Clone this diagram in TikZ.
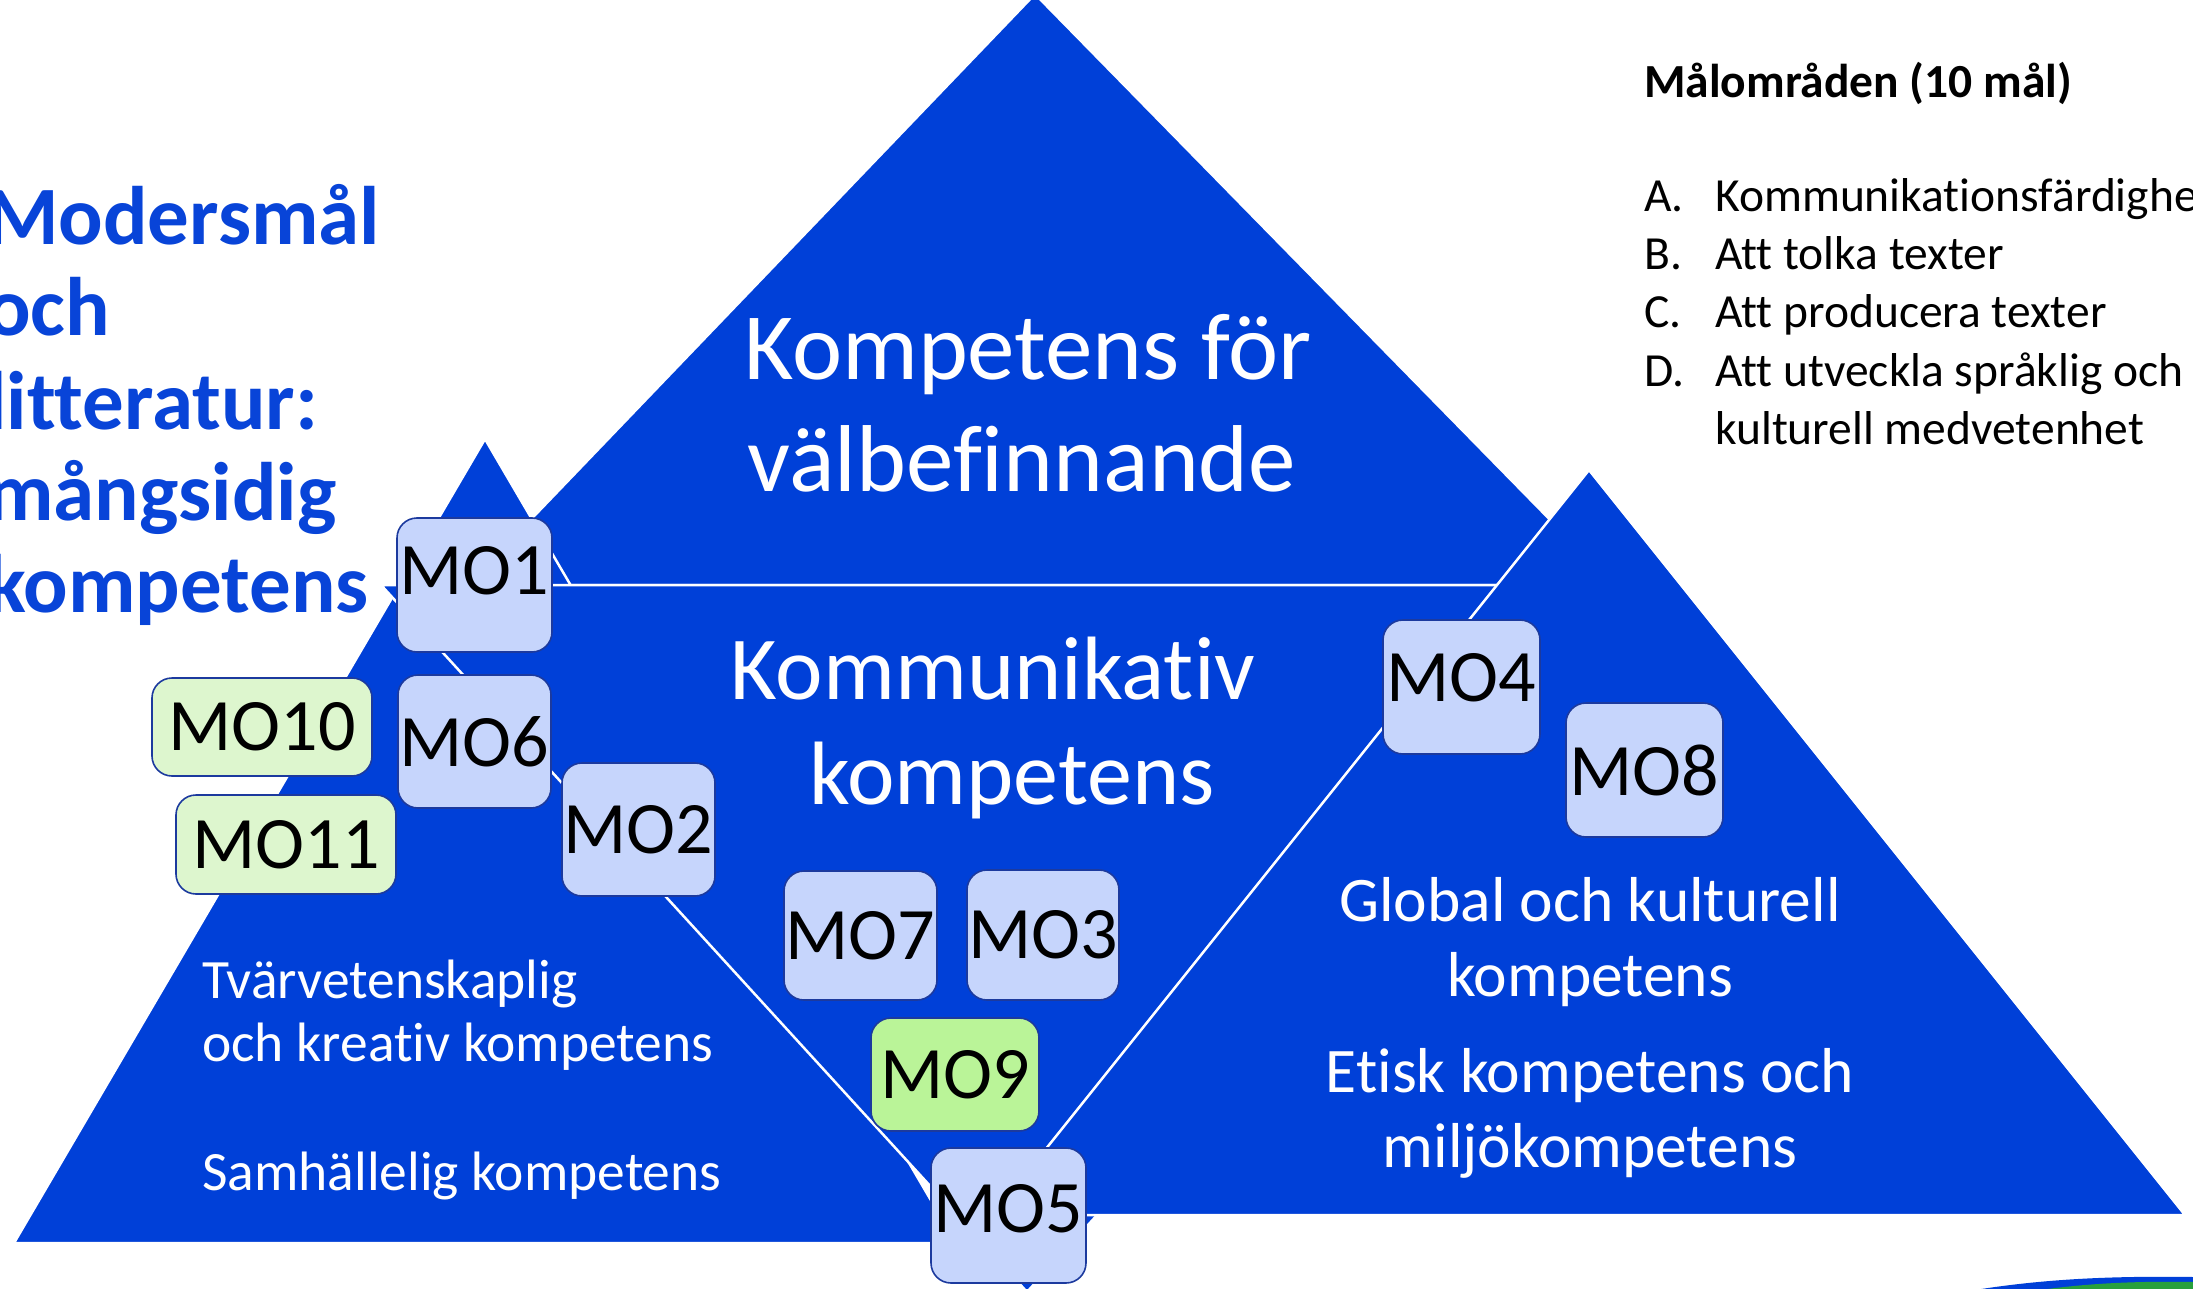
\documentclass[tikz,border=0pt]{standalone}
\usepackage{fontspec}
\setmainfont{Carlito}[Ligatures={NoCommon}]
\definecolor{triblue}{RGB}{0,64,216}
\definecolor{titleblue}{RGB}{8,68,216}
\definecolor{boxblue}{RGB}{198,213,252}
\definecolor{boxedge}{RGB}{28,58,158}
\definecolor{palegreen}{RGB}{221,246,206}
\definecolor{brightgreen}{RGB}{186,244,152}
\definecolor{logogreen}{RGB}{40,160,60}
\begin{document}
\begin{tikzpicture}[x=1pt,y=-1pt,
  tri/.style={fill=triblue, draw=white, line width=2.5pt, line join=round},
  mobox/.style={draw=boxedge, line width=1.6pt, fill=boxblue, rounded corners=20pt,
    minimum width=153pt, minimum height=133pt, inner sep=0pt, text=black,
    font=\fontsize{74}{82}\selectfont},
  greenbox/.style={mobox, fill=palegreen, minimum width=220pt, minimum height=98pt},
  wtext/.style={text=white, inner sep=0pt, anchor=base},
  bigtxt/.style={wtext, font=\fontsize{95}{114}\selectfont},
  midtxt/.style={wtext, font=\fontsize{63.5}{76}\selectfont},
  smalltxt/.style={wtext, anchor=base west, font=\fontsize{55.5}{66}\selectfont},
  titletxt/.style={text=titleblue, inner sep=0pt, anchor=base west, font=\fontsize{83}{99}\selectfont\bfseries},
  legtxt/.style={text=black, inner sep=0pt, anchor=base west, font=\fontsize{47.5}{57}\selectfont}
]
\path[use as bounding box, clip] (0,0) rectangle (2193,1289);

% triangles
\path[tri] (1035,-6) -- (1614,585) -- (468,585) -- cycle;
\path[tri] (485,439) -- (956,1243) -- (14,1243) -- cycle;
\path[tri] (381,585) -- (1671,585) -- (1027,1292) -- cycle;
\path[tri] (1589,470) -- (2185,1215) -- (993,1215) -- cycle;

% texts inside triangles
\node[bigtxt] (tw1) at (1028,379) {Kompetens för};
\node[bigtxt] (tw2) at (1022,491) {välbefinnande};
\node[bigtxt, font=\fontsize{90}{108}\selectfont] (tk1) at (993,699) {Kommunikativ};
\node[bigtxt, font=\fontsize{90}{108}\selectfont] (tk2) at (1012,804) {kompetens};
\node[smalltxt] (tt1) at (202,998) {Tvärvetenskaplig};
\node[smalltxt] (tt2) at (202,1061) {och kreativ kompetens};
\node[smalltxt] (tt3) at (202,1190) {Samhällelig kompetens};
\node[midtxt] (tg1) at (1590,921) {Global och kulturell};
\node[midtxt] (tg2) at (1590,996) {kompetens};
\node[midtxt] (te1) at (1590,1092) {Etisk kompetens och};
\node[midtxt] (te2) at (1590,1167) {miljökompetens};

% title
\node[titletxt] (ti1) at (-14,245) {Modersmål};
\node[titletxt] (ti2) at (-14,336) {och};
\node[titletxt] (ti3) at (-14,429) {litteratur:};
\node[titletxt] (ti4) at (-14,520) {mångsidig};
\node[titletxt] (ti5) at (-14,612) {kompetens};

% legend
\node[legtxt, font=\fontsize{47.5}{57}\selectfont\bfseries] (lh) at (1644,98) {Målområden (10 mål)};
\node[legtxt] (la) at (1644,212) {A.};
\node[legtxt] (lat) at (1715,212) {Kommunikationsfärdigheter};
\node[legtxt] (lb) at (1644,270) {B.};
\node[legtxt] (lbt) at (1715,270) {Att tolka texter};
\node[legtxt] (lc) at (1644,328) {C.};
\node[legtxt] (lct) at (1715,328) {Att producera texter};
\node[legtxt] (ld) at (1644,386) {D.};
\node[legtxt] (ldt) at (1715,386) {Att utveckla språklig och};
\node[legtxt] (ldt2) at (1715,444) {kulturell medvetenhet};

% MO boxes
\node[mobox, minimum width=155pt, minimum height=134pt, text depth=30pt] (mo1) at (474.5,585) {MO1};
\node[mobox] (mo6) at (474.5,741.5) {MO6};
\node[mobox] (mo2) at (638.5,829.5) {MO2};
\node[greenbox] (mo10) at (262,727) {MO10};
\node[greenbox, minimum height=99pt] (mo11) at (286,844.5) {MO11};
\node[mobox, minimum height=129pt] (mo7) at (860.5,935.5) {MO7};
\node[mobox, minimum width=152pt, minimum height=130pt] (mo3) at (1043,935) {MO3};
\node[mobox, fill=brightgreen, minimum width=168pt, minimum height=113pt] (mo9) at (955,1074.5) {MO9};
\node[mobox, minimum width=155pt, minimum height=135pt, text depth=14pt] (mo5) at (1008.5,1215.5) {MO5};
\node[mobox, minimum width=157pt, minimum height=134pt, text depth=20pt] (mo4) at (1461.5,687) {MO4};
\node[mobox, minimum width=157pt, minimum height=134pt] (mo8) at (1644.5,770) {MO8};

% logo sliver bottom right
\fill[triblue] (1975,1290) .. controls (2050,1278) and (2120,1276) .. (2193,1277) -- (2193,1290) -- cycle;
\fill[logogreen] (2040,1290) .. controls (2090,1283) and (2140,1281) .. (2193,1282) -- (2193,1290) -- cycle;
\end{tikzpicture}
\end{document}
